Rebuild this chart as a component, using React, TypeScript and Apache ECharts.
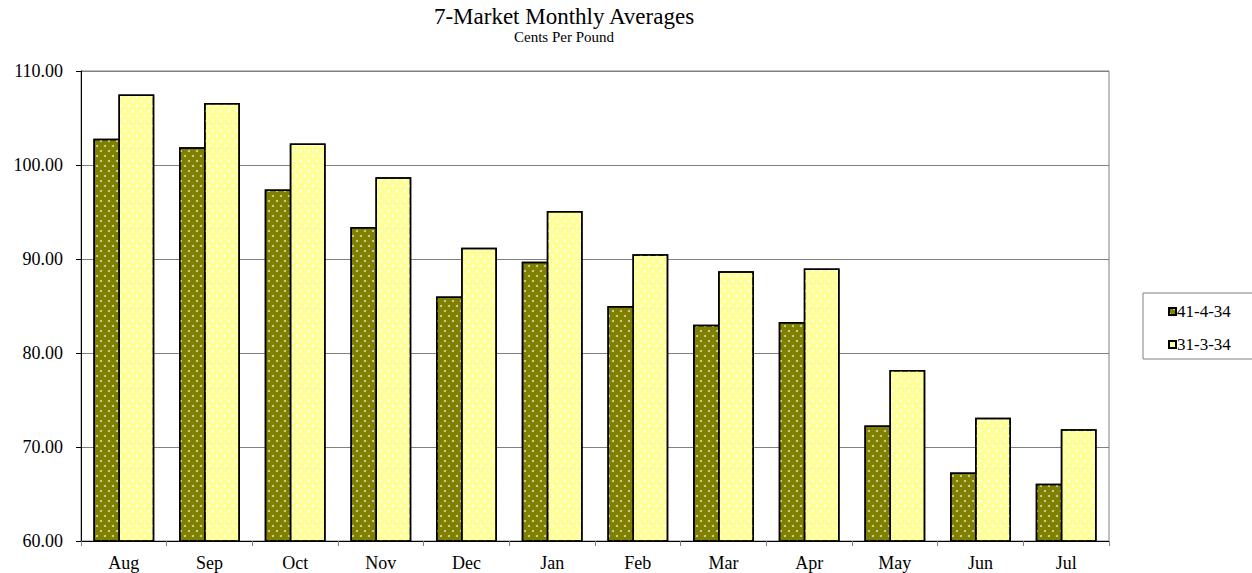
import React, { useEffect, useRef } from "react";
import * as echarts from "echarts";

const categories = ["Aug", "Sep", "Oct", "Nov", "Dec", "Jan", "Feb", "Mar", "Apr", "May", "Jun", "Jul"];
const series41 = [102.8, 101.9, 97.4, 93.4, 86.0, 89.7, 85.0, 83.0, 83.3, 72.3, 67.3, 66.1];
const series31 = [107.5, 106.6, 102.3, 98.7, 91.2, 95.1, 90.5, 88.7, 89.0, 78.2, 73.1, 71.9];
const seriesNames = ["41-4-34", "31-3-34"];
const titleText = "7-Market Monthly Averages";
const subtitleText = "Cents Per Pound";

const FONT = "'Liberation Serif', 'Times New Roman', serif";

export default function App() {
  const ref = useRef<HTMLDivElement>(null);
  useEffect(() => {
    if (!ref.current) return;
    const chart = echarts.init(ref.current, null, { renderer: "svg" });
    const decalDots = (c: string) => ({
      symbol: "circle",
      symbolSize: 1,
      dashArrayX: [[2, 6], [0, 4, 2, 2]],
      dashArrayY: [2, 3],
      color: c,
      rotation: 0,
    });
    chart.setOption({
      animation: false,
      textStyle: { fontFamily: FONT },
      title: [
        {
          text: titleText,
          left: 564,
          textAlign: "center",
          top: 5,
          padding: 0,
          textStyle: { fontFamily: FONT, fontSize: 23, fontWeight: "normal", color: "#000" },
        },
        {
          text: subtitleText,
          left: 564,
          textAlign: "center",
          top: 29,
          padding: 0,
          textStyle: { fontFamily: FONT, fontSize: 15, fontWeight: "normal", color: "#000" },
        },
      ],
      legend: {
        orient: "vertical",
        left: 1143,
        top: 293,
        width: 140,
        padding: [10, 60, 6, 25],
        itemGap: 16,
        itemWidth: 7,
        itemHeight: 7,
        borderColor: "#808080",
        borderWidth: 1,
        icon: "rect",
        data: seriesNames,
        textStyle: { fontFamily: FONT, fontSize: 17, color: "#000", padding: [0, 0, 0, -4] },
      },
      grid: {
        left: 81,
        right: 143,
        top: 71,
        bottom: 32,
        show: true,
        borderColor: "#808080",
        borderWidth: 1,
        containLabel: false,
      },
      xAxis: {
        type: "category",
        data: categories,
        axisLine: { lineStyle: { color: "#000", width: 1 } },
        axisTick: { show: true, alignWithLabel: false, length: 5, lineStyle: { color: "#808080" } },
        axisLabel: { fontFamily: FONT, fontSize: 18, color: "#000", margin: 13 },
      },
      yAxis: {
        type: "value",
        min: 60,
        max: 110,
        interval: 10,
        axisLine: { show: true, lineStyle: { color: "#000", width: 1 } },
        axisTick: { show: true, length: 5, lineStyle: { color: "#000" } },
        splitLine: { lineStyle: { color: "#808080", width: 1 } },
        axisLabel: {
          fontFamily: FONT,
          fontSize: 18,
          color: "#000",
          margin: 18,
          formatter: (v: number) => v.toFixed(2),
        },
      },
      series: [
        {
          name: seriesNames[0],
          type: "bar",
          data: series41,
          barGap: "-30%",
          barCategoryGap: "29%",
          itemStyle: {
            color: "#808000",
            borderColor: "#000",
            borderWidth: 1.5,
            decal: decalDots("rgba(230,230,200,0.9)"),
          },
        },
        {
          name: seriesNames[1],
          type: "bar",
          data: series31,
          barGap: "-30%",
          barCategoryGap: "29%",
          itemStyle: {
            color: "#FFFF99",
            borderColor: "#000",
            borderWidth: 1.5,
            decal: decalDots("rgba(255,255,255,0.95)"),
          },
        },
      ],
    });
    return () => chart.dispose();
  }, []);
  return (
    <div
      ref={ref}
      style={{ position: "fixed", left: 0, top: 0, width: 1252, height: 573, background: "#fff" }}
    />
  );
}
